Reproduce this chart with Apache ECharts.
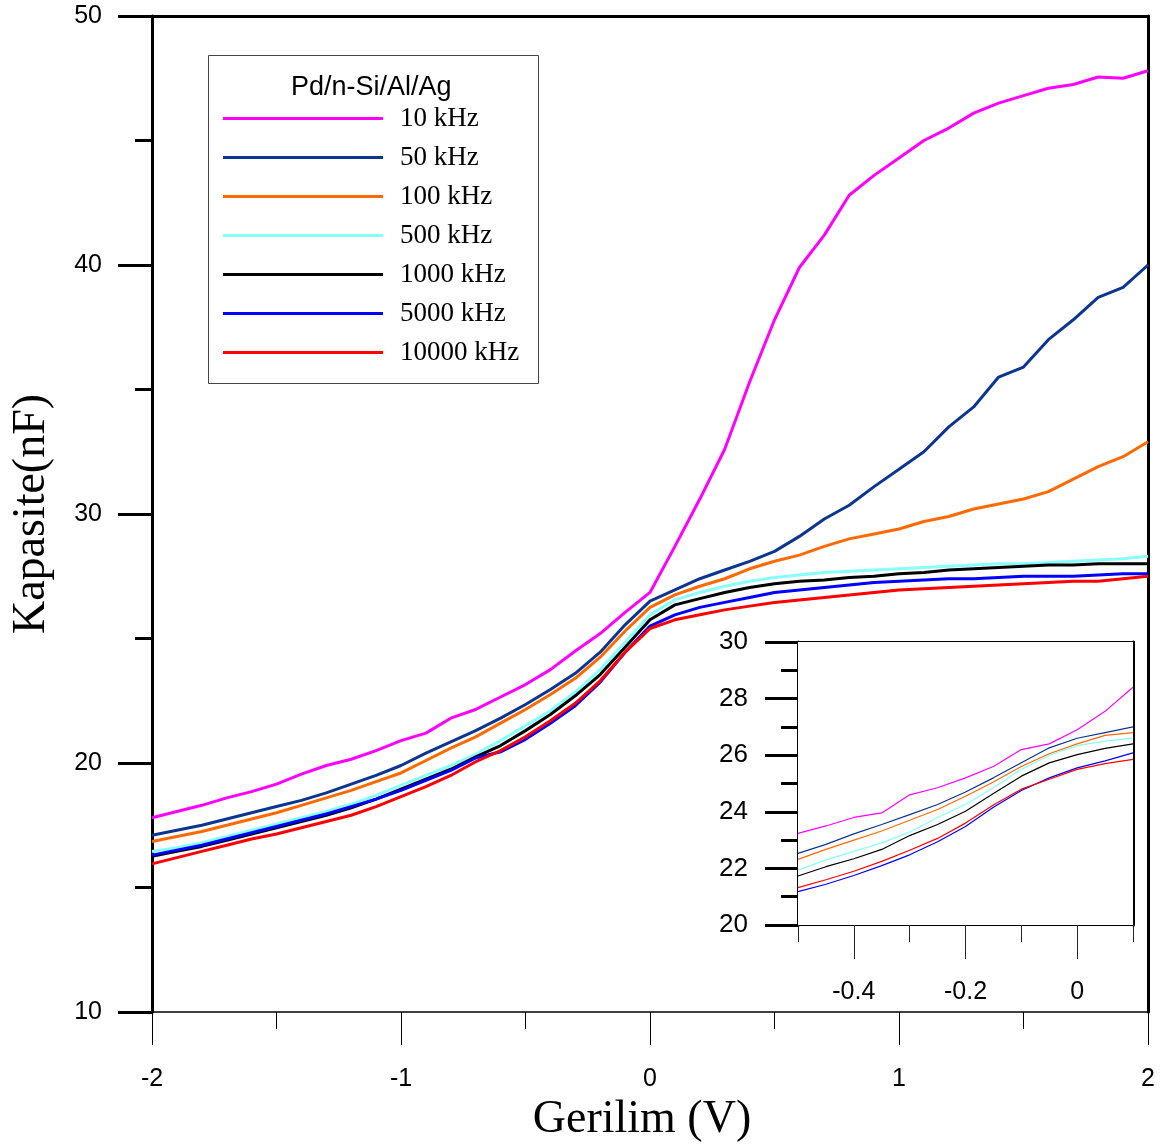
<!DOCTYPE html>
<html>
<head>
<meta charset="utf-8">
<script src="https://cdn.jsdelivr.net/npm/echarts@6/dist/echarts.min.js"></script>
<style>
  html, body { margin: 0; padding: 0; background: #fff; }
  #chart { width: 1166px; height: 1148px; }
</style>
</head>
<body>
<div id="chart"></div>
<script>
// Gerilim (V), main panel
var voltage = [-2.0, -1.9, -1.8, -1.7, -1.6, -1.5, -1.4, -1.3, -1.2, -1.1, -1.0, -0.9, -0.8, -0.7, -0.6, -0.5, -0.4, -0.3, -0.2, -0.1, 0.0,
  0.1, 0.2, 0.3, 0.4, 0.5, 0.6, 0.7, 0.8, 0.9, 1.0, 1.1, 1.2, 1.3, 1.4, 1.5, 1.6, 1.7, 1.8, 1.9, 2.0]

var freqNames = ['10 kHz', '50 kHz', '100 kHz', '500 kHz', '1000 kHz', '5000 kHz', '10000 kHz']
var colors = ['#ff00ff', '#0b3590', '#ff6a00', '#88ffff', '#000000', '#0000ff', '#ff0000']

// Kapasite (nF) for each frequency
var c10k = [17.8, 18.05, 18.3, 18.6, 18.85, 19.15, 19.55, 19.9, 20.15, 20.5, 20.9, 21.2, 21.8, 22.15, 22.65, 23.15, 23.75, 24.5, 25.2, 26.05, 26.85,
  28.7, 30.6, 32.6, 35.3, 37.8, 39.9, 41.2, 42.8, 43.6, 44.3, 45.0, 45.5, 46.1, 46.5, 46.8, 47.1, 47.25, 47.55, 47.5, 47.8]
var c50k = [17.1, 17.3, 17.5, 17.75, 18.0, 18.25, 18.5, 18.8, 19.15, 19.5, 19.9, 20.4, 20.85, 21.3, 21.8, 22.35, 22.95, 23.6, 24.45, 25.55, 26.5,
  26.95, 27.4, 27.75, 28.1, 28.5, 29.1, 29.8, 30.35, 31.1, 31.8, 32.5, 33.5, 34.3, 35.5, 35.9, 37.0, 37.8, 38.7, 39.1, 40.0]
var c100k = [16.85, 17.05, 17.25, 17.5, 17.75, 18.0, 18.3, 18.6, 18.9, 19.25, 19.6, 20.1, 20.6, 21.05, 21.6, 22.15, 22.75, 23.4, 24.25, 25.3, 26.25,
  26.75, 27.1, 27.4, 27.8, 28.1, 28.35, 28.7, 29.0, 29.2, 29.4, 29.7, 29.9, 30.2, 30.4, 30.6, 30.9, 31.4, 31.9, 32.3, 32.9]
var c500k = [16.45, 16.6, 16.8, 17.05, 17.3, 17.55, 17.8, 18.05, 18.35, 18.7, 19.1, 19.5, 19.9, 20.35, 20.9, 21.5, 22.1, 22.85, 23.75, 24.85, 25.95,
  26.55, 26.85, 27.1, 27.3, 27.45, 27.55, 27.65, 27.7, 27.75, 27.8, 27.85, 27.9, 27.95, 28.0, 28.0, 28.05, 28.1, 28.15, 28.2, 28.3]
var c1000k = [16.25, 16.45, 16.65, 16.9, 17.15, 17.4, 17.65, 17.9, 18.2, 18.55, 18.95, 19.35, 19.75, 20.25, 20.7, 21.3, 21.95, 22.7, 23.55, 24.65, 25.75,
  26.35, 26.6, 26.85, 27.05, 27.2, 27.3, 27.35, 27.45, 27.5, 27.6, 27.65, 27.75, 27.8, 27.85, 27.9, 27.95, 27.95, 28.0, 28.0, 28.0]
var c5000k = [16.3, 16.5, 16.7, 16.95, 17.2, 17.45, 17.7, 17.95, 18.25, 18.55, 18.9, 19.3, 19.7, 20.2, 20.45, 20.95, 21.6, 22.3, 23.25, 24.45, 25.5,
  25.95, 26.25, 26.45, 26.65, 26.85, 26.95, 27.05, 27.15, 27.25, 27.3, 27.35, 27.4, 27.4, 27.45, 27.5, 27.5, 27.5, 27.55, 27.6, 27.6]
var c10000k = [15.95, 16.2, 16.45, 16.7, 16.95, 17.15, 17.4, 17.65, 17.9, 18.25, 18.65, 19.05, 19.5, 20.05, 20.5, 21.05, 21.7, 22.4, 23.3, 24.45, 25.4,
  25.75, 25.95, 26.15, 26.3, 26.45, 26.55, 26.65, 26.75, 26.85, 26.95, 27.0, 27.05, 27.1, 27.15, 27.2, 27.25, 27.3, 27.3, 27.4, 27.5]

// inset panel (zoom on -0.5 .. 0.1 V)
var insetVoltage = [-0.5, -0.45, -0.4, -0.35, -0.3, -0.25, -0.2, -0.15, -0.1, -0.05, 0.0, 0.05, 0.1]
var i10k = [23.24, 23.5, 23.8, 23.96, 24.6, 24.85, 25.2, 25.6, 26.2, 26.4, 26.9, 27.55, 28.4]
var i50k = [22.53, 22.85, 23.22, 23.55, 23.9, 24.26, 24.7, 25.2, 25.73, 26.26, 26.6, 26.8, 27.0]
var i100k = [22.32, 22.67, 23.0, 23.32, 23.7, 24.08, 24.55, 25.05, 25.6, 26.05, 26.4, 26.7, 26.8]
var i500k = [21.94, 22.3, 22.6, 22.9, 23.28, 23.8, 24.26, 24.85, 25.5, 26.0, 26.34, 26.5, 26.6]
var i1000k = [21.73, 22.06, 22.34, 22.67, 23.16, 23.55, 24.02, 24.65, 25.26, 25.73, 26.02, 26.24, 26.4]
var i5000k = [21.18, 21.44, 21.75, 22.1, 22.48, 22.94, 23.48, 24.16, 24.75, 25.2, 25.55, 25.8, 26.08]
var i10000k = [21.32, 21.6, 21.9, 22.25, 22.64, 23.06, 23.6, 24.24, 24.8, 25.15, 25.5, 25.7, 25.85]

var mainSets = [c10k, c50k, c100k, c500k, c1000k, c5000k, c10000k]
var insetSets = [i10k, i50k, i100k, i500k, i1000k, i5000k, i10000k]

var SANS = 'Liberation Sans, Arial, sans-serif'
var SERIF = 'Liberation Serif, Times New Roman, serif'

function pairs(xs, ys) {
  return xs.map(function (x, i) { return [x, ys[i]] })
}

function borderAxis(pos, gridIndex, min, max, width) {
  return {
    type: 'value', gridIndex: gridIndex, position: pos, min: min, max: max,
    axisLine: { show: true, onZero: false, lineStyle: { color: '#000', width: width } },
    axisTick: { show: false }, axisLabel: { show: false }, splitLine: { show: false }
  }
}

var series = []
mainSets.forEach(function (set, i) {
  series.push({
    name: freqNames[i], type: 'line', xAxisIndex: 0, yAxisIndex: 0,
    showSymbol: false, symbol: 'none', data: pairs(voltage, set),
    lineStyle: { color: colors[i], width: 3 }, itemStyle: { color: colors[i] }, z: 3
  })
})
insetSets.forEach(function (set, i) {
  series.push({
    name: freqNames[i], type: 'line', xAxisIndex: 2, yAxisIndex: 2,
    showSymbol: false, symbol: 'none', data: pairs(insetVoltage, set),
    lineStyle: { color: colors[i], width: 1.2 }, itemStyle: { color: colors[i] }, z: 3
  })
})

var chart = echarts.init(document.getElementById('chart'))
chart.setOption({
  animation: false,
  backgroundColor: '#fff',
  grid: [
    { left: 152, top: 16, width: 996, height: 996 },
    { left: 798, top: 642, width: 335, height: 283, show: true, backgroundColor: '#fff', borderWidth: 0, z: 1 }
  ],
  legend: {
    data: freqNames,
    orient: 'vertical',
    left: 218,
    top: 100,
    icon: 'rect',
    itemWidth: 160,
    itemHeight: 3,
    itemGap: 12,
    textStyle: { fontFamily: SERIF, fontSize: 27, color: '#000', lineHeight: 27, padding: [0, 0, 0, 12] }
  },
  graphic: [
    {
      type: 'rect', left: 208, top: 55, z: 0,
      shape: { width: 330, height: 328 },
      style: { fill: '#fff', stroke: '#444', lineWidth: 1 }
    },
    {
      type: 'text', left: 291, top: 74, z: 10,
      style: { text: 'Pd/n-Si/Al/Ag', font: '27px ' + SANS, fill: '#000' }
    }
  ],
  xAxis: [
    {
      type: 'value', gridIndex: 0, min: -2, max: 2, interval: 1,
      name: 'Gerilim (V)', nameLocation: 'middle', nameGap: 82,
      nameTextStyle: { fontFamily: SERIF, fontSize: 46, color: '#000', padding: [0, 16, 0, 0] },
      axisLine: { onZero: false, lineStyle: { color: '#000', width: 1.5 } },
      axisTick: { inside: false, length: 33, lineStyle: { color: '#000', width: 1 } },
      minorTick: { show: true, splitNumber: 2, length: 17, lineStyle: { color: '#000', width: 1 } },
      axisLabel: { margin: 55, fontFamily: SANS, fontSize: 25, color: '#000' },
      splitLine: { show: false }
    },
    borderAxis('top', 0, -2, 2, 3),
    {
      type: 'value', gridIndex: 1, min: -0.5, max: 0.1,
      axisLine: { onZero: false, lineStyle: { color: '#000', width: 2 } },
      axisTick: { length: 34, customValues: [-0.4, -0.2, 0], lineStyle: { color: '#222', width: 1 } },
      axisLabel: {
        margin: 55, customValues: [-0.4, -0.2, 0], fontFamily: SANS, fontSize: 25, color: '#000',
        formatter: function (v) { return Math.abs(v) < 1e-9 ? '0' : String(+v.toFixed(1)) }
      },
      splitLine: { show: false }
    },
    {
      type: 'value', gridIndex: 1, min: -0.5, max: 0.1, position: 'bottom',
      axisLine: { show: false, onZero: false },
      axisTick: { length: 17, customValues: [-0.5, -0.3, -0.1, 0.1], lineStyle: { color: '#222', width: 1 } },
      axisLabel: { show: false }, splitLine: { show: false }
    },
    borderAxis('top', 1, -0.5, 0.1, 3)
  ],
  yAxis: [
    {
      type: 'value', gridIndex: 0, min: 10, max: 50, interval: 10,
      name: 'Kapasite(nF)', nameLocation: 'middle', nameGap: 97,
      nameTextStyle: { fontFamily: SERIF, fontSize: 46, color: '#000' },
      axisLine: { onZero: false, lineStyle: { color: '#000', width: 3 } },
      axisTick: { length: 34, lineStyle: { color: '#000', width: 3 } },
      minorTick: { show: true, splitNumber: 2, length: 17, lineStyle: { color: '#000', width: 3 } },
      axisLabel: { margin: 50, fontFamily: SANS, fontSize: 25, color: '#000' },
      splitLine: { show: false }
    },
    borderAxis('right', 0, 10, 50, 3),
    {
      type: 'value', gridIndex: 1, min: 20, max: 30, interval: 2,
      axisLine: { onZero: false, lineStyle: { color: '#000', width: 3 } },
      axisTick: { length: 33, lineStyle: { color: '#000', width: 3 } },
      minorTick: { show: true, splitNumber: 2, length: 17, lineStyle: { color: '#000', width: 3 } },
      axisLabel: { margin: 50, fontFamily: SANS, fontSize: 26, color: '#000' },
      splitLine: { show: false }
    },
    borderAxis('right', 1, 20, 30, 3)
  ],
  series: series
})
</script>
</body>
</html>
